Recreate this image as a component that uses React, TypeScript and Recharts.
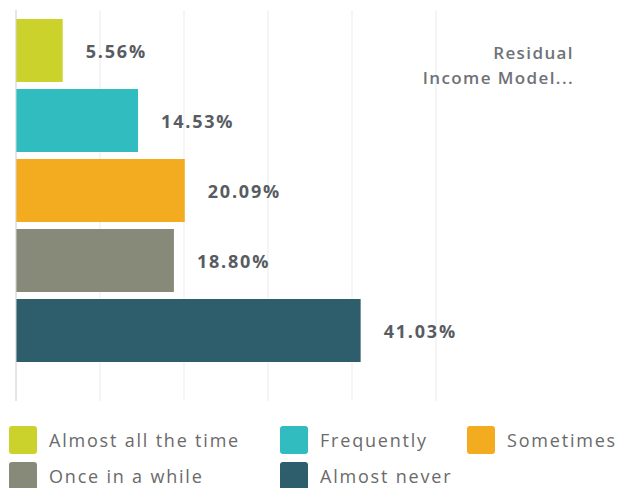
import React from 'react';
import { BarChart, Bar, XAxis, YAxis, CartesianGrid, Legend, LabelList, ReferenceLine } from 'recharts';

const categories = ['Residual Income Model...'];
const seriesNames = ['Almost all the time', 'Frequently', 'Sometimes', 'Once in a while', 'Almost never'];
const seriesValues = [5.56, 14.53, 20.09, 18.8, 41.03];
const seriesColors = ['#cbd22b', '#31bdc0', '#f3ab1f', '#878a79', '#2e5e6b'];
const xTicks = [0, 10, 20, 30, 40, 50];

const data = categories.map((name) => {
  const row: Record<string, string | number> = { name };
  seriesNames.forEach((_, i) => {
    row[`s${i}`] = seriesValues[i];
  });
  return row;
});

const fmt = (v: number) => `${v.toFixed(2)}%`;

const ValueLabel = (props: any) => {
  const { x, y, width, height, value } = props;
  return (
    <text
      x={x + width + 23}
      y={y + height / 2}
      dominantBaseline="central"
      fill="#585c62"
      fontSize={18}
      fontWeight={700}
      fontFamily="'Open Sans', sans-serif"
      letterSpacing={1.8}
    >
      {fmt(Number(value))}
    </text>
  );
};

const CategoryTick = (props: any) => {
  const { x, y, payload } = props;
  const words = String(payload.value).split(' ');
  const lines = [words[0], words.slice(1).join(' ')];
  return (
    <text
      x={x + 138}
      y={y - 138}
      textAnchor="end"
      dominantBaseline="central"
      fill="#6f7276"
      fontSize={17}
      fontWeight={600}
      letterSpacing={1.4}
      fontFamily="'Open Sans', sans-serif"
    >
      {lines.map((l, i) => (
        <tspan key={i} x={x + 138} dy={i === 0 ? 0 : 25}>
          {l}
        </tspan>
      ))}
    </text>
  );
};

const colWidths = [271, 187, 150];

const LegendContent = (props: any) => {
  const items = [...(props.payload || [])].sort(
    (a: any, b: any) => seriesNames.indexOf(a.value) - seriesNames.indexOf(b.value)
  );
  return (
    <div style={{ display: 'flex', flexWrap: 'wrap', width: 610 }}>
      {items.map((entry: any, i: number) => (
        <div
          key={entry.value}
          style={{ display: 'flex', alignItems: 'center', width: colWidths[i % 3], height: 36 }}
        >
          <span
            style={{
              display: 'inline-block',
              width: 28,
              height: 28,
              borderRadius: 3,
              background: entry.color,
              marginRight: 12,
            }}
          />
          <span style={{ fontSize: 18, color: '#6a6a6a', letterSpacing: 1.8, fontFamily: "'Open Sans', sans-serif" }}>
            {entry.value}
          </span>
        </div>
      ))}
    </div>
  );
};

export default function App() {
  return (
    <div style={{ width: 616, height: 480, fontFamily: "'Open Sans', sans-serif" }}>
      <BarChart
        width={616}
        height={480}
        data={data}
        layout="vertical"
        margin={{ top: 2, right: 0, bottom: 87, left: 8 }}
        barSize={63}
        barGap={7}
      >
        <CartesianGrid horizontal={false} stroke="#ebebed" />
        <XAxis
          type="number"
          domain={[0, 50]}
          ticks={xTicks}
          tick={() => <g />}
          axisLine={false}
          tickLine={false}
          height={0}
        />
        <YAxis
          type="category"
          dataKey="name"
          orientation="right"
          width={188}
          axisLine={false}
          tickLine={false}
          tickSize={0}
          tickMargin={0}
          padding={{ top: 0, bottom: 31 }}
          tick={<CategoryTick />}
        />
        <ReferenceLine x={0} stroke="#d6d6d8" />
        {seriesNames.map((s, i) => (
          <Bar key={s} dataKey={`s${i}`} name={s} fill={seriesColors[i]} isAnimationActive={false}>
            <LabelList dataKey={`s${i}`} content={<ValueLabel />} />
          </Bar>
        ))}
        <Legend
          layout="vertical"
          align="center"
          verticalAlign="middle"
          content={<LegendContent />}
          wrapperStyle={{ top: 414, left: 1, width: 610, height: 72 }}
        />
      </BarChart>
    </div>
  );
}
